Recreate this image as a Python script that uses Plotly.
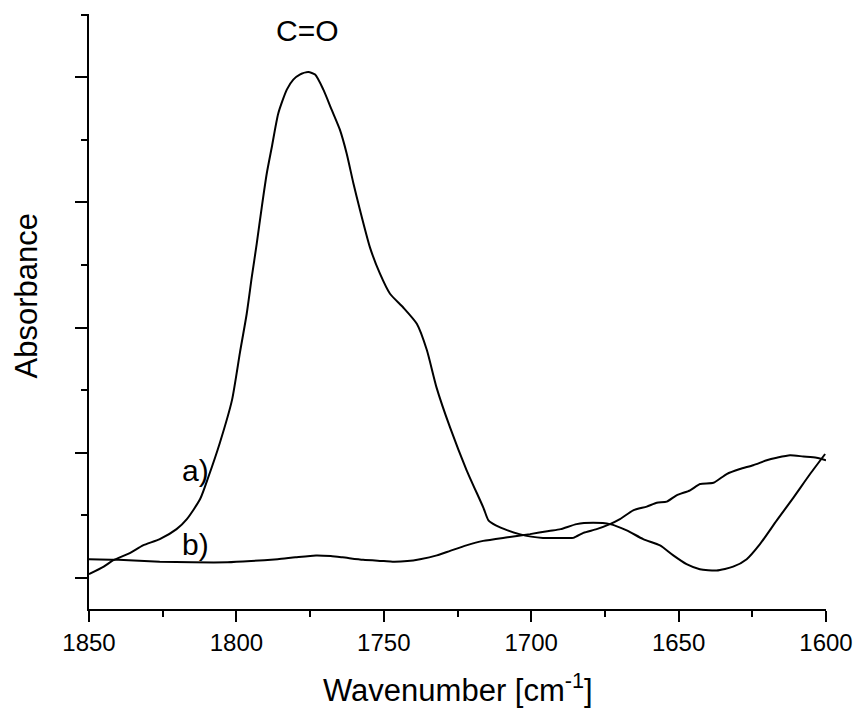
import plotly.graph_objects as go

# Spectrum a) wavenumbers and absorbance
wn_a = [1850, 1845, 1841.9, 1836, 1831.7, 1826, 1820.3, 1816.8, 1812.3, 1809.6, 1805.6,
        1801.5, 1798.8, 1796.5, 1794.8, 1793.1, 1791.4, 1789.7, 1788, 1785.8, 1782.9,
        1780.7, 1778.5, 1775.6, 1773.3, 1770.5, 1767.7, 1764.9, 1762.6, 1760.3, 1758.1,
        1754.7, 1751.3, 1747.9, 1743.4, 1738.8, 1735.4, 1732.1, 1727.5, 1721.9, 1716.2,
        1714.5, 1712, 1708, 1704, 1700, 1696, 1693, 1690, 1685.7, 1682.3, 1677.8, 1673.3,
        1669.9, 1665.4, 1660.8, 1657.4, 1654, 1650.7, 1646.1, 1642.7, 1638.2, 1633.7,
        1629.2, 1624.7, 1620.1, 1616.7, 1612.2, 1607.7, 1603.2, 1600]
abs_a = [0.03, 0.09, 0.14, 0.20, 0.26, 0.31, 0.39, 0.47, 0.63, 0.80, 1.08,
         1.42, 1.80, 2.11, 2.40, 2.67, 2.96, 3.23, 3.44, 3.71, 3.90,
         3.98, 4.02, 4.04, 4.02, 3.90, 3.74, 3.58, 3.39, 3.15, 2.94,
         2.64, 2.43, 2.27, 2.16, 2.03, 1.82, 1.52, 1.20, 0.86, 0.56,
         0.46, 0.42, 0.38, 0.35, 0.33, 0.32, 0.32, 0.32, 0.32, 0.36, 0.39, 0.43,
         0.47, 0.54, 0.57, 0.60, 0.61, 0.66, 0.70, 0.75, 0.76, 0.83,
         0.87, 0.90, 0.94, 0.96, 0.98, 0.97, 0.96, 0.94]

# Spectrum b)
wn_b = [1850, 1840, 1826, 1815, 1803, 1795, 1786, 1780, 1773, 1768, 1764, 1757, 1750,
        1747, 1742, 1737.7, 1732, 1727.5, 1722, 1716.3, 1708, 1700.4, 1694, 1690,
        1684.6, 1679, 1673.3, 1667.6, 1662, 1656.3, 1651.8, 1647.3, 1642.8, 1637.1,
        1631.5, 1626.9, 1622.4, 1616.7, 1611.1, 1605.4, 1600.3]
abs_b = [0.15, 0.145, 0.13, 0.125, 0.125, 0.135, 0.15, 0.165, 0.18, 0.175, 0.165, 0.145, 0.135,
         0.13, 0.135, 0.15, 0.18, 0.216, 0.26, 0.296, 0.325, 0.35, 0.375, 0.39,
         0.43, 0.44, 0.43, 0.38, 0.31, 0.26, 0.18, 0.11, 0.07, 0.06,
         0.09, 0.15, 0.27, 0.46, 0.64, 0.83, 0.99]

x_ticks = [1850, 1800, 1750, 1700, 1650, 1600]
x_tick_labels = ["1850", "1800", "1750", "1700", "1650", "1600"]
y_ticks = [0, 1, 2, 3, 4]

FONT = "Liberation Sans, Arial, sans-serif"

fig = go.Figure()
fig.add_trace(go.Scatter(x=wn_a, y=abs_a, mode="lines", name="a)",
                         line=dict(color="black", width=2, shape="spline", smoothing=0.6)))
fig.add_trace(go.Scatter(x=wn_b, y=abs_b, mode="lines", name="b)",
                         line=dict(color="black", width=2, shape="spline", smoothing=0.6)))

fig.update_layout(
    template="none",
    width=857, height=708,
    margin=dict(l=89, r=31, t=14, b=99, pad=0),
    paper_bgcolor="white", plot_bgcolor="white",
    showlegend=False,
    font=dict(family=FONT, color="black"),
    xaxis=dict(
        range=[1850, 1600], showgrid=False, zeroline=False, automargin=False,
        showline=True, linecolor="black", linewidth=2,
        ticks="outside", ticklen=11, tickwidth=2, tickcolor="black",
        tickvals=x_ticks, ticktext=x_tick_labels,
        tickfont=dict(family=FONT, size=24, color="black"),
        minor=dict(ticks="outside", ticklen=6, tickwidth=2, tickcolor="black", dtick=25, tick0=1600),
    ),
    yaxis=dict(
        range=[-0.248, 4.504], showgrid=False, zeroline=False, automargin=False,
        showline=True, linecolor="black", linewidth=2,
        ticks="outside", ticklen=12, tickwidth=2, tickcolor="black",
        tickvals=y_ticks, showticklabels=False,
        minor=dict(ticks="outside", ticklen=6, tickwidth=2, tickcolor="black", dtick=0.5, tick0=0),
    ),
    annotations=[
        dict(text="Wavenumber [cm<sup>-1</sup>]", xref="paper", yref="paper",
             x=0.5, y=-0.133, xanchor="center", yanchor="middle", showarrow=False,
             font=dict(family=FONT, size=31, color="black")),
        dict(text="Absorbance", xref="paper", yref="paper", textangle=-90,
             x=-0.0855, y=0.527, xanchor="center", yanchor="middle", showarrow=False,
             font=dict(family=FONT, size=31, color="black")),
        dict(text="C=O", x=1776, y=4.37, xref="x", yref="y", showarrow=False,
             xanchor="center", yanchor="middle", font=dict(family=FONT, size=30, color="black")),
        dict(text="a)", x=1814, y=0.856, xref="x", yref="y", showarrow=False,
             xanchor="center", yanchor="middle", font=dict(family=FONT, size=30, color="black")),
        dict(text="b)", x=1814, y=0.27, xref="x", yref="y", showarrow=False,
             xanchor="center", yanchor="middle", font=dict(family=FONT, size=30, color="black")),
    ],
)

fig.write_html("out.html")
